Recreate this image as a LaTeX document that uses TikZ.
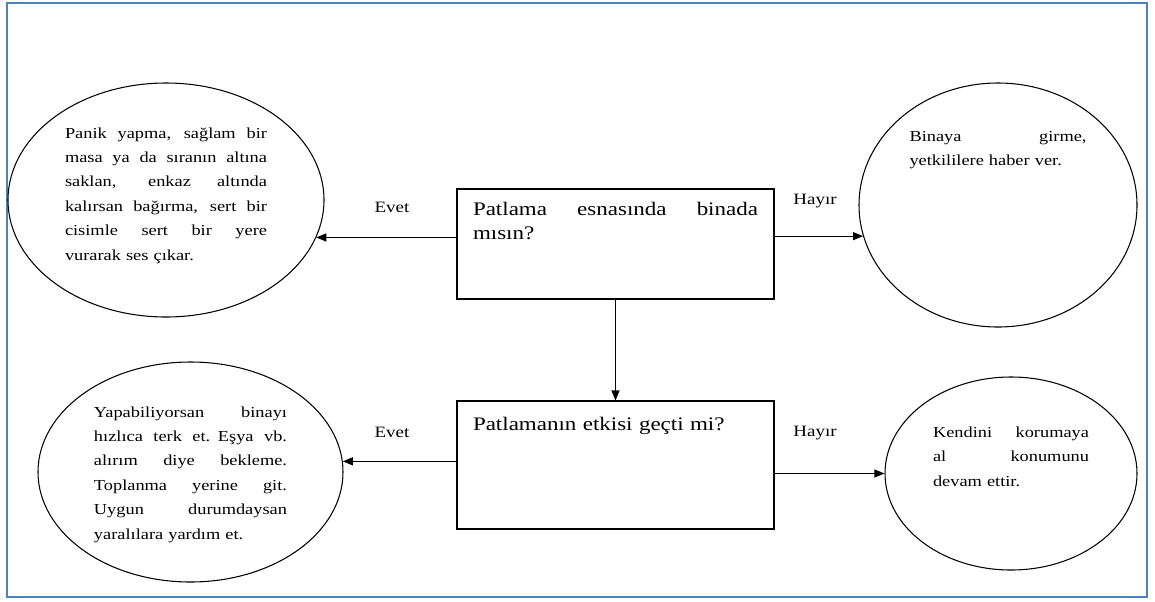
\documentclass[tikz,border=0pt]{standalone}
\usepackage{fontspec}
\setmainfont{Liberation Serif}[FakeStretch=1.2]
\usetikzlibrary{shapes.geometric,arrows.meta}
\definecolor{frameblue}{RGB}{79,129,189}
\newcommand{\fullline}[1]{\makebox[\linewidth][s]{\spaceskip=0.25em plus 1fil #1}\\}

\begin{document}
\begin{tikzpicture}[scale=0.2,
        oval/.style={draw=black, ellipse, line width=0.6pt, inner sep=0pt, align=left, font=\fontsize{8.7}{13.9}\selectfont},
        qbox/.style={draw=black, rectangle, line width=0.6pt, inner xsep=0.32cm, inner ysep=0pt, text width=5.7cm, align=left, font=\fontsize{10.9}{14.2}\selectfont},
        answer/.style={inner sep=0pt, font=\fontsize{9}{11}\selectfont},
        flow/.style={-{Triangle[length=2mm,width=1.6mm]}, line width=0.6pt}]
        \useasboundingbox (0,0) rectangle (115.5,-60.1);
        \draw [frameblue, line width=1.1pt] (0.7,-0.3) rectangle (114.7,-59.7);
        % questions
        \node [qbox, text height=0.52cm, text depth=1.68cm] (q1) at (61.55,-24.4) {\fullline{Patlama esnasında binada}mısın?};
        \node [qbox, text height=0.58cm, text depth=1.98cm] (q2) at (61.55,-46.5) {Patlamanın etkisi geçti mi?};
        % answers
        \node [oval, minimum width=6.32cm, minimum height=4.68cm, text width=4.04cm, text height=0.28cm, text depth=2.76cm] (e1) at (16.6,-20.0)
            {\fullline{Panik yapma, sağlam bir}\fullline{masa ya da sıranın altına}\fullline{saklan, enkaz altında}\fullline{kalırsan bağırma, sert bir}\fullline{cisimle sert bir yere}vurarak ses çıkar.};
        \node [oval, minimum width=6.1cm, minimum height=4.4cm, text width=3.86cm, text height=0.28cm, text depth=2.48cm] (e2) at (19.05,-47.2)
            {\fullline{Yapabiliyorsan binayı}\fullline{hızlıca terk et. Eşya vb.}\fullline{alırım diye bekleme.}\fullline{Toplanma yerine git.}\fullline{Uygun durumdaysan}yaralılara yardım et.};
        \node [oval, minimum width=5.56cm, minimum height=4.88cm, text width=3.54cm, text height=0.28cm, text depth=2.84cm] (e3) at (99.8,-20.5)
            {\fullline{Binaya girme,}yetkililere haber ver.};
        \node [oval, minimum width=5.04cm, minimum height=3.86cm, text width=3.12cm, text height=0.28cm, text depth=1.72cm] (e4) at (101.1,-47.35)
            {\fullline{Kendini korumaya}\fullline{al konumunu}devam ettir.};
        % arrows
        \draw [flow] (q1.west |- e1.-14) -- (e1.-14);
        \draw [flow] (q1.east |- e3.193) -- (e3.193);
        \draw [flow] (q1.south) -- (q2.north);
        \draw [flow] (q2.west |- e2.4) -- (e2.4);
        \draw [flow] (q2.east |- e4.west) -- (e4.west);
        \node [answer] (yes1) at (39.2,-20.7) {Evet};
        \node [answer] (no1) at (81.5,-20.1) {Hayır};
        \node [answer] (yes2) at (39.2,-43.2) {Evet};
        \node [answer] (no2) at (81.5,-43.3) {Hayır};
\end{tikzpicture}
\end{document}
